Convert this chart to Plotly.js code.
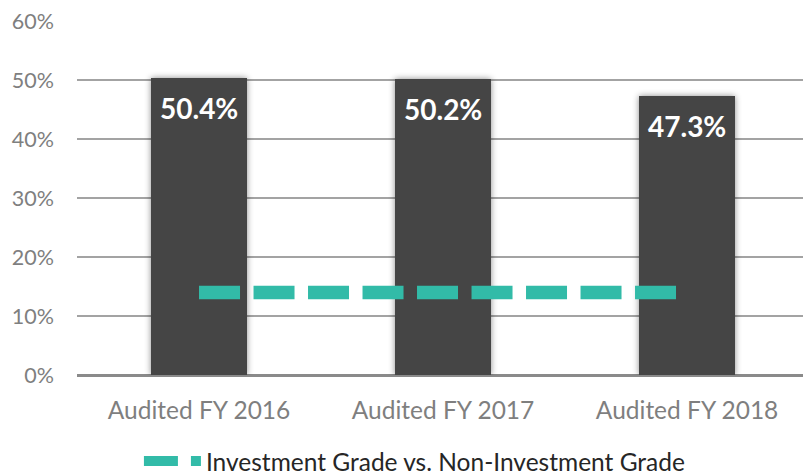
<!DOCTYPE html>
<html>
<head>
<meta charset="utf-8">
<script src="https://cdn.plot.ly/plotly-3.0.1.min.js"></script>
<style>
  html, body { margin: 0; padding: 0; background: #fff; }
  #chart { width: 803px; height: 475px; }
  .barlayer .point path { filter: drop-shadow(0px 0px 3px rgba(0,0,0,0.45)); }
</style>
</head>
<body>
<div id="chart"></div>
<script>
// ---- data ----
const categories = ["Audited FY 2016", "Audited FY 2017", "Audited FY 2018"];
const barValues = [0.504, 0.502, 0.473];
const lineValues = [0.14, 0.14, 0.14];
const lineName = "Investment Grade vs. Non-Investment Grade";
const yTickVals = [0, 0.1, 0.2, 0.3, 0.4, 0.5, 0.6];
const yTickText = ["0%", "10%", "20%", "30%", "40%", "50%", "60%"];

const teal = "#32BBA8";
const barColor = "#454545";
const FONT = "Lato, 'Open Sans', sans-serif";

const traces = [
  {
    type: "bar",
    x: categories,
    y: barValues,
    width: 0.393,
    marker: { color: barColor },
    showlegend: false,
    hoverinfo: "skip"
  },
  {
    type: "scatter",
    mode: "lines",
    x: categories,
    y: lineValues,
    name: lineName,
    legendgroup: "line",
    showlegend: false,
    line: { color: teal, width: 13.5, dash: "41px,13.5px" },
    hoverinfo: "skip"
  },
  {
    // legend entry only (shorter dash pattern for the legend swatch)
    type: "scatter",
    mode: "lines",
    x: [null],
    y: [null],
    name: lineName,
    legendgroup: "line",
    showlegend: true,
    line: { color: teal, width: 11, dash: "34px,13px" },
    hoverinfo: "skip"
  }
];

const annotations = categories.map((c, i) => ({
  x: c,
  y: barValues[i],
  xref: "x",
  yref: "y",
  text: "<b>" + (barValues[i] * 100).toFixed(1) + "%</b>",
  showarrow: false,
  yanchor: "middle",
  yshift: -30,
  font: { family: FONT, size: 28, color: "#ffffff" }
}));

const layout = {
  width: 803,
  height: 475,
  margin: { l: 77, r: 0, t: 21, b: 100, pad: 0, autoexpand: false },
  paper_bgcolor: "#ffffff",
  plot_bgcolor: "#ffffff",
  font: { family: FONT },
  bargap: 0,
  xaxis: {
    type: "category",
    range: [-0.5, 2.475],
    showgrid: false,
    zeroline: false,
    showline: false,
    ticks: "",
    ticklabelstandoff: 18,
    tickfont: { family: FONT, size: 24.5, color: "#7f7f7f" },
    fixedrange: true
  },
  yaxis: {
    range: [0, 0.6],
    tickvals: yTickVals,
    ticktext: yTickText,
    showgrid: true,
    gridcolor: "#a3a3a3",
    gridwidth: 1.4,
    zeroline: true,
    zerolinecolor: "#8a8a8a",
    zerolinewidth: 3,
    showline: false,
    ticks: "",
    ticklabelstandoff: 22,
    tickfont: { family: FONT, size: 21.5, color: "#7f7f7f" },
    fixedrange: true
  },
  showlegend: true,
  legend: {
    orientation: "h",
    x: 0.0853,
    xanchor: "left",
    y: -0.243,
    yanchor: "middle",
    itemwidth: 57,
    font: { family: FONT, size: 24.5, color: "#262626" },
    bgcolor: "rgba(0,0,0,0)"
  },
  annotations: annotations
};

Plotly.newPlot("chart", traces, layout, { staticPlot: true, displayModeBar: false });
</script>
</body>
</html>
